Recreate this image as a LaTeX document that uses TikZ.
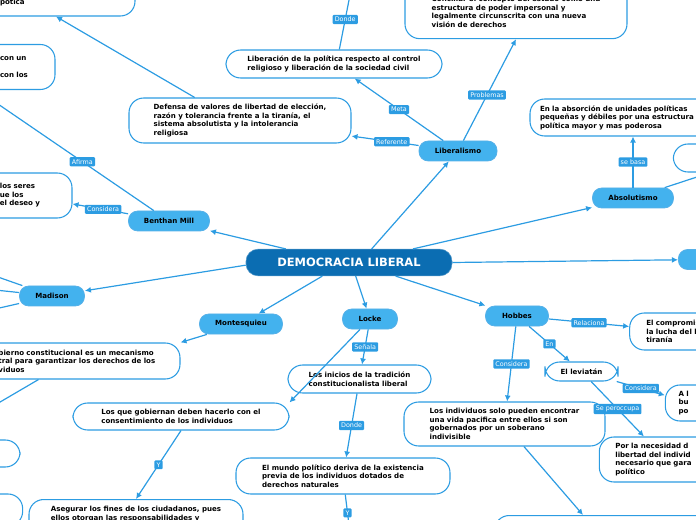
\documentclass[tikz,border=0pt]{standalone}
\usepackage{fontspec}
\setmainfont{DejaVu Sans}
\usetikzlibrary{arrows.meta}
\definecolor{cline}{HTML}{2C9CE2}
\definecolor{cfill}{HTML}{43B2EE}
\definecolor{cdark}{HTML}{0B6DB2}
\tikzset{
 wbox/.style={draw=cline,line width=0.8pt,fill=white,rounded corners=11pt,align=left,inner xsep=0pt,inner ysep=0pt,font=\fontsize{5.3}{6.4}\selectfont\bfseries},
 mnode/.style={draw=cline!80,line width=0.6pt,fill=cfill,rounded corners=7pt,font=\fontsize{5.3}{6}\selectfont\bfseries,minimum height=15pt},
 tag/.style={fill=cline,text=white,font=\fontsize{4.8}{5}\selectfont,inner sep=1.6pt,rounded corners=0.8pt},
 conn/.style={cline,line width=0.9pt,-{Latex[length=4.5pt,width=4.5pt]}},
 plain/.style={cline,line width=0.9pt},
}
\begin{document}
\begin{tikzpicture}[x=0.75pt,y=-0.75pt]
\useasboundingbox (0,0) rectangle (696,520);
% white boxes
\node[wbox,minimum width=118.5pt,minimum height=28.5pt,text width=84pt] (tl) at (56,-3) {\mbox{}\\l poder de la iglesia y de la\\pótica};
\node[wbox,minimum width=58.5pt,minimum height=33.75pt,text width=24pt] (cu) at (16,67) {con un\\\mbox{}\\con los};
\node[wbox,minimum width=166.5pt,minimum height=33.75pt] (def) at (240,120.5) {Defensa de valores de libertad de elección,\\razón y tolerancia frente a la tiranía, el\\sistema absolutista y la intolerancia\\religiosa};
\node[wbox,minimum width=162pt,minimum height=21pt] (lib) at (334,64) {Liberación de la política respecto al control\\religioso y liberación de la sociedad civil};
\node[wbox,minimum width=166.5pt,minimum height=40pt] (con) at (516,12) {Conciliar el concepto del estado como una\\estructura de poder impersonal y\\legalmente circunscrita con una nueva\\visión de derechos};
\node[wbox,minimum width=71.25pt,minimum height=33.75pt,text width=37pt] (ser) at (24.5,195.5) {los seres\\ue los\\el deseo y};
\node[wbox,minimum width=150pt,minimum height=27.75pt,text width=135pt] (abs) at (630,117.5) {En la absorción de unidades políticas\\pequeñas y débiles por una estructura\\política mayor y mas poderosa};
\node[wbox,minimum width=40pt,minimum height=21pt] (pr) at (700,158) {};
\node[wbox,minimum width=152.25pt,minimum height=27pt,text width=120pt] (gob) at (78.5,361) {bierno constitucional es un mecanismo\\tral para garantizar los derechos de los\\viduos};
\node[wbox,minimum width=162pt,minimum height=20.25pt] (lqg) at (181,416.5) {Los que gobiernan deben hacerlo con el\\consentimiento de los individuos};
\node[wbox,minimum width=107.25pt,minimum height=21pt] (ini) at (359.5,379) {Los inicios de la tradición\\constitucionalista liberal};
\node[wbox,minimum width=160.5pt,minimum height=27pt] (mun) at (343,476) {El mundo político deriva de la existencia\\previa de los individuos dotados de\\derechos naturales};
\node[wbox,minimum width=160.5pt,minimum height=27pt,anchor=north] (ase) at (136,499) {Asegurar los fines de los ciudadanos, pues\\ellos otorgan las responsabilidades y\\\mbox{}};
\node[wbox,minimum width=30pt,minimum height=20.25pt] (lp1) at (0,453.5) {};
\node[wbox,minimum width=34pt,minimum height=24pt] (lp2) at (0,510) {};
\node[wbox,minimum width=150.75pt,minimum height=33pt] (ind) at (504.5,424) {Los individuos solo pueden encontrar\\una vida pacifica entre ellos si son\\gobernados por un soberano\\indivisible};
\node[wbox,minimum width=80pt,minimum height=27.75pt,text width=55pt] (comp) at (683,331.5) {El compromiso\\la lucha del li\\tiranía};
\node[wbox,minimum width=54.75pt,minimum height=14.25pt,align=center] (lev) at (581.5,371.5) {El leviatán};
\node[wbox,minimum width=40pt,minimum height=27pt,text width=20pt] (al) at (692,403) {A l\\bu\\po};
\node[wbox,minimum width=100pt,minimum height=33.75pt,text width=76pt] (nec) at (666,459.5) {Por la necesidad d\\libertad del individ\\necesario que gara\\político};
\node[wbox,minimum width=165pt,minimum height=15pt,anchor=north west] (bot) at (494,515) {};
% main nodes
\node[draw=cdark!70,fill=cdark,text=white,rounded corners=9pt,minimum width=154.5pt,minimum height=20pt,font=\fontsize{8.6}{10}\selectfont\bfseries] (dem) at (349,262.5) {DEMOCRACIA LIBERAL};
\node[mnode,minimum width=58.5pt] (libm) at (458,151) {Liberalismo};
\node[mnode,minimum width=60.75pt] (absm) at (633,198) {Absolutismo};
\node[mnode,minimum width=60.75pt] (ben) at (169,221) {Benthan Mill};
\node[mnode,minimum width=48.75pt] (mad) at (52,296) {Madison};
\node[mnode,minimum width=62.25pt] (mon) at (241,324) {Montesquieu};
\node[mnode,minimum width=41.25pt] (loc) at (370,319) {Locke};
\node[mnode,minimum width=47.25pt] (hob) at (517,316) {Hobbes};
\node[mnode,minimum width=40pt] (rn) at (705,259.5) {};
% off-canvas ends
\coordinate (o1) at (350,-5);
\coordinate (o2) at (-5,102);
\coordinate (o3) at (700,176);
\coordinate (o4) at (-5,276);
\coordinate (o5) at (-5,290);
\coordinate (o6) at (-5,309);
\coordinate (o7) at (-5,405);
\coordinate (o8) at (349,525);
\coordinate (b1) at (583,515);
% connectors
\draw[conn] ([xshift=30pt]dem.north west) -- (ben);
\draw[conn] ([xshift=17pt]dem.north) -- (libm);
\draw[conn] ([xshift=48pt]dem.north) -- (absm);
\draw[conn] (dem.east) -- (rn);
\draw[conn] ([yshift=-2pt]dem.west) -- (mad);
\draw[conn] ([xshift=-20pt]dem.south) -- (mon);
\draw[conn] ([xshift=5pt]dem.south) -- (loc);
\draw[conn] ([xshift=35pt]dem.south) -- (hob);
\draw[conn] (libm) -- node[tag,pos=0.5]{Meta} (lib);
\draw[conn] (libm) -- node[tag,pos=0.4]{Referente} (def);
\draw[conn] (libm) -- node[tag,pos=0.45]{Problemas} (con.south);
\draw[plain] ([xshift=4pt]lib.north) -- node[tag,pos=0.55]{Donde} (o1);
\draw[conn] ([xshift=-34pt]def.north) -- (tl.south);
\draw[plain] (ben) -- node[tag,pos=0.45]{Afirma} (o2);
\draw[conn] (ben) -- node[tag,pos=0.45]{Considera} (ser);
\draw[conn] (absm) -- node[tag]{se basa} (absm |- abs.south);
\draw[plain] (absm) -- (o3);
\draw[plain] (mad) -- (o4);
\draw[plain] (mad) -- (o5);
\draw[plain] (mad) -- (o6);
\draw[conn] (mon) -- (gob.north east);
\draw[plain] ([xshift=-30pt]gob.south) -- (o7);
\draw[conn] (loc) -- (lqg.north east);
\draw[conn] (loc) -- node[tag]{Señala} (ini);
\draw[conn] (ini) -- node[tag]{Donde} (mun);
\draw[plain] (mun) -- node[tag,pos=0.6]{Y} (o8);
\draw[conn] (lqg.south) -- node[tag]{Y} (ase.north);
\draw[conn] (hob) -- node[tag]{Considera} (ind);
\draw[conn] (hob) -- node[tag]{Relaciona} (comp);
\draw[conn] (hob) -- node[tag]{En} (lev);
\draw[conn] (lev) -- node[tag]{Considera} (al);
\draw[conn] (lev) -- node[tag]{Se peroccupa} (nec);
\draw[conn] (ind) -- (b1);
\end{tikzpicture}
\end{document}
